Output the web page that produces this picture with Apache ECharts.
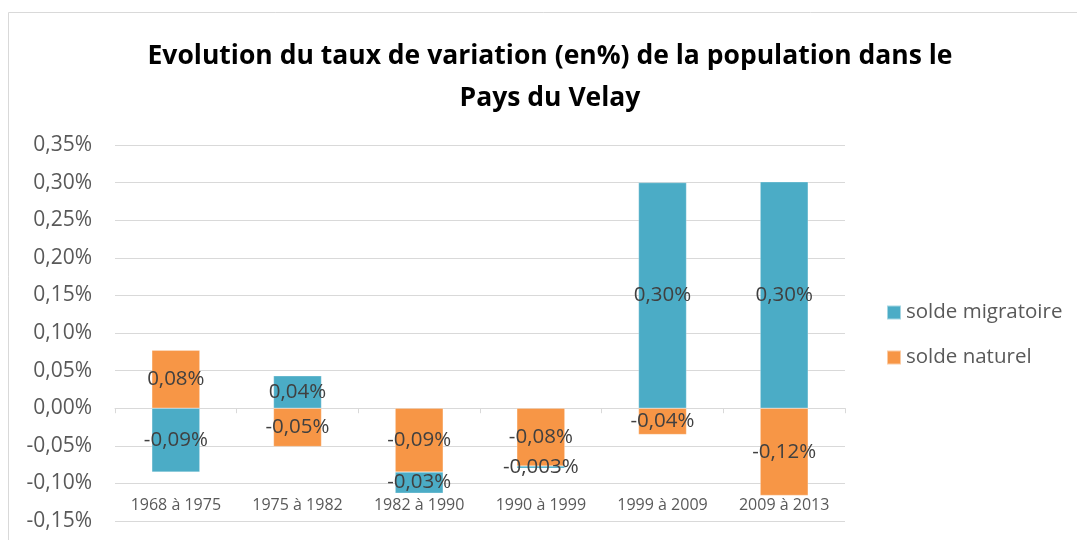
<!DOCTYPE html>
<html>
<head>
<meta charset="utf-8">
<script src="https://cdn.jsdelivr.net/npm/echarts@6/dist/echarts.min.js"></script>
<style>
html,body{margin:0;padding:0;background:#fff;}
#c{width:1077px;height:540px;}
</style>
</head>
<body>
<div id="c"></div>
<script>
var categories = ['1968 à 1975','1975 à 1982','1982 à 1990','1990 à 1999','1999 à 2009','2009 à 2013'];
var soldeNaturel = [0.077, -0.051, -0.085, -0.077, -0.035, -0.116];
var soldeMigratoire = [-0.085, 0.043, -0.028, -0.003, 0.300, 0.301];
var naturelLabels = ['0,08%','-0,05%','-0,09%','-0,08%','-0,04%','-0,12%'];
var migratoireLabels = ['-0,09%','0,04%','-0,03%','-0,003%','0,30%','0,30%'];
var yMin = -0.15, yMax = 0.35, yStep = 0.05;

var FONT = 'Open Sans';
var chart = echarts.init(document.getElementById('c'), null, {renderer:'canvas'});
function fmtPct(v){ if (Math.abs(v) < 1e-9) v = 0; return v.toFixed(2).replace('.', ',') + '%'; }

chart.setOption({
  animation: false,
  textStyle: {fontFamily: FONT},
  graphic: [{
    type: 'rect', silent: true,
    shape: {x: 8.5, y: 12.5, width: 1100, height: 600},
    style: {fill: 'none', stroke: '#d9d9d9', lineWidth: 1}
  }],
  title: {
    text: 'Evolution du taux de variation (en%) de la population dans le\nPays du Velay',
    left: 545, textAlign: 'center', top: 30,
    textStyle: {fontFamily: FONT, fontWeight: 'bold', fontSize: 26.5, lineHeight: 42, color: '#000'}
  },
  legend: {
    orient: 'vertical', left: 881, top: 297,
    itemWidth: 14, itemHeight: 14, itemGap: 24,
    icon: 'rect',
    data: ['solde migratoire', 'solde naturel'],
    textStyle: {fontFamily: FONT, fontSize: 20.5, lineHeight: 20, color: '#595959'}
  },
  grid: {left: 115, right: 232, top: 145, bottom: 19},
  xAxis: [{
    type: 'category', data: categories, position: 'bottom',
    axisLine: {onZero: true, lineStyle: {color: '#d9d9d9', width: 1}},
    axisTick: {show: true, length: 5, lineStyle: {color: '#d9d9d9'}},
    axisLabel: {show: false},
    splitLine: {show: false}
  }, {
    type: 'category', data: categories, position: 'bottom',
    axisLine: {show: false, onZero: false},
    axisTick: {show: false},
    axisLabel: {inside: true, margin: 8, fontFamily: FONT, fontSize: 16, color: '#595959'},
    splitLine: {show: false}
  }],
  yAxis: {
    type: 'value', min: yMin, max: yMax, interval: yStep,
    axisLine: {show: false}, axisTick: {show: false},
    axisLabel: {margin: 23, fontFamily: FONT, fontSize: 21, color: '#595959', formatter: fmtPct},
    splitLine: {lineStyle: {color: '#d9d9d9', width: 1}}
  },
  series: [{
    name: 'solde naturel', type: 'bar', stack: 'total', barWidth: 48,
    data: soldeNaturel,
    itemStyle: {color: '#F79646', borderColor: 'rgba(255,255,255,0.5)', borderWidth: 0.5},
    label: {show: true, position: 'inside', fontFamily: FONT, fontSize: 20.5, color: '#404040',
      formatter: function(p){ return naturelLabels[p.dataIndex]; }}
  }, {
    name: 'solde migratoire', type: 'bar', stack: 'total', barWidth: 48,
    data: soldeMigratoire,
    itemStyle: {color: '#4BACC6', borderColor: 'rgba(255,255,255,0.5)', borderWidth: 0.5},
    label: {show: true, position: 'inside', fontFamily: FONT, fontSize: 20.5, color: '#404040',
      formatter: function(p){ return migratoireLabels[p.dataIndex]; }}
  }]
});
</script>
</body>
</html>
